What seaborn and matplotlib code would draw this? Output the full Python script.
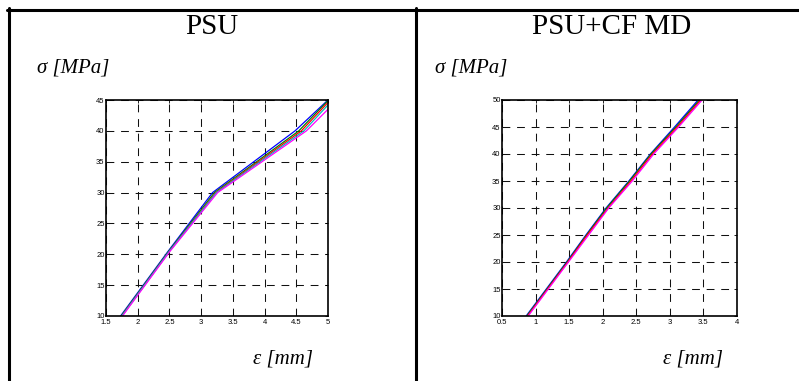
import matplotlib
matplotlib.use("Agg")
import matplotlib.pyplot as plt
import seaborn as sns
import pandas as pd
import numpy as np
from matplotlib.lines import Line2D

# --- data ---
series_names = ["s1", "s2", "s3", "s4", "s5"]
series_colors = ["#0000ff", "#008000", "#ff0000", "#00bfbf", "#ff00ff"]

# PSU: strain [mm] / stress [MPa]
psu_stress = [10, 20.5, 30, 40, 45]
psu_strain = {
    "s1": [1.73, 2.48, 3.18, 4.48, 5.0],
    "s2": [1.74, 2.49, 3.21, 4.54, 5.0],
    "s3": [1.75, 2.50, 3.23, 4.58, 5.0],
    "s4": [1.75, 2.50, 3.24, 4.62, 5.0],
    "s5": [1.76, 2.51, 3.26, 4.66, 5.0],
}
psu_end = {"s1": 45.0, "s2": 44.9, "s3": 44.6, "s4": 44.2, "s5": 43.5}

# PSU+CF MD
cf_stress = [10, 15, 20, 25, 30, 35, 40, 45, 50]
cf_strain = {
    "s1": [0.86, 1.16, 1.46, 1.75, 2.05, 2.39, 2.71, 3.07, 3.42],
    "s2": [0.87, 1.17, 1.47, 1.76, 2.06, 2.40, 2.72, 3.09, 3.44],
    "s3": [0.88, 1.18, 1.48, 1.77, 2.08, 2.42, 2.74, 3.11, 3.46],
    "s5": [0.89, 1.19, 1.49, 1.79, 2.09, 2.44, 2.76, 3.13, 3.48],
}

psu_xticks = [1.5, 2, 2.5, 3, 3.5, 4, 4.5, 5]
psu_yticks = [10, 15, 20, 25, 30, 35, 40, 45]
cf_xticks = [0.5, 1, 1.5, 2, 2.5, 3, 3.5, 4]
cf_yticks = [10, 15, 20, 25, 30, 35, 40, 45, 50]

rows = []
for name in series_names:
    ys = psu_stress[:-1] + [psu_end[name]]
    for i, (x, y) in enumerate(zip(psu_strain[name], ys)):
        rows.append({"panel": "PSU", "series": name, "order": i, "strain": x, "stress": y})
for name, xs in cf_strain.items():
    for i, (x, y) in enumerate(zip(xs, cf_stress)):
        rows.append({"panel": "CF", "series": name, "order": i, "strain": x, "stress": y})
df = pd.DataFrame(rows)

sns.set_style("white")
plt.rcParams["font.family"] = ["Liberation Sans", "DejaVu Sans"]
plt.rcParams["text.color"] = "black"

fig = plt.figure(figsize=(7.99, 3.81), dpi=100)
W, H = 799, 381


def px_axes(l, t, r, b):
    return fig.add_axes([l / W, 1 - b / H, (r - l) / W, (b - t) / H])


palette = dict(zip(series_names, series_colors))


def draw_panel(ax, sub, xlim, ylim, xticks, yticks):
    sns.lineplot(data=sub, x="strain", y="stress", hue="series", palette=palette,
                 estimator=None, sort=False, units="series", linewidth=0.9,
                 legend=False, ax=ax)
    ax.set_xlim(*xlim)
    ax.set_ylim(*ylim)
    ax.set_xticks(xticks)
    ax.set_yticks(yticks)
    ax.set_xticklabels([f"{t:g}" for t in xticks])
    ax.set_yticklabels([f"{t:g}" for t in yticks])
    ax.set_xlabel("")
    ax.set_ylabel("")
    ax.grid(True, color="#111111", linestyle=(0, (7.5, 6.5)), linewidth=0.75)
    ax.tick_params(direction="in", length=2.5, width=0.6, labelsize=5.5,
                   colors="black", top=True, right=True)
    ax.tick_params(axis="x", pad=2.5)
    ax.tick_params(axis="y", pad=1.0)
    for s in ax.spines.values():
        s.set_color("black")
        s.set_linewidth(1.2)


ax1 = px_axes(106, 100, 328, 316)
draw_panel(ax1, df[df.panel == "PSU"], (1.5, 5), (10, 45), psu_xticks, psu_yticks)
ax2 = px_axes(502, 100, 737, 316)
draw_panel(ax2, df[df.panel == "CF"], (0.5, 4), (10, 50), cf_xticks, cf_yticks)

serif = ["Liberation Serif", "DejaVu Serif"]


def ftext(x, y, s, **kw):
    fig.text(x / W, 1 - y / H, s, color="black", **kw)


ftext(212, 27, "PSU", family=serif, fontsize=21, ha="center", va="center")
ftext(612, 27, "PSU+CF MD", family=serif, fontsize=21, ha="center", va="center")
ftext(37, 68, "σ [MPa]", family=serif, style="italic", fontsize=15, ha="left", va="center")
ftext(435, 68, "σ [MPa]", family=serif, style="italic", fontsize=15, ha="left", va="center")
ftext(253, 359, "ε [mm]", family=serif, style="italic", fontsize=15, ha="left", va="center")
ftext(663, 359, "ε [mm]", family=serif, style="italic", fontsize=15, ha="left", va="center")

# table borders
lw = 2.2
fig.add_artist(Line2D([7 / W, 1], [1 - 9.5 / H] * 2, color="black", linewidth=lw,
                      transform=fig.transFigure))
fig.add_artist(Line2D([8.5 / W] * 2, [0, 1 - 8 / H], color="black", linewidth=lw,
                      transform=fig.transFigure))
fig.add_artist(Line2D([416 / W] * 2, [0, 1 - 8 / H], color="black", linewidth=lw,
                      transform=fig.transFigure))

fig.savefig("out.png", dpi=100)
